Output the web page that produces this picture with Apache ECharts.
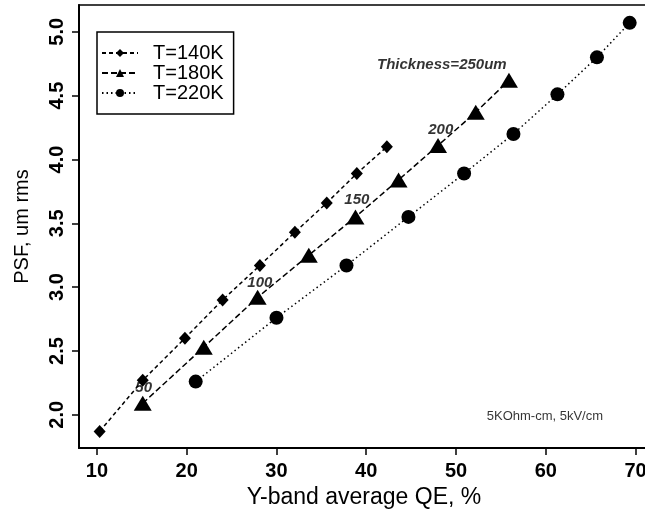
<!DOCTYPE html>
<html>
<head>
<meta charset="utf-8">
<script src="https://cdn.jsdelivr.net/npm/echarts@6/dist/echarts.min.js"></script>
<style>
  html, body { margin: 0; padding: 0; background: #fff; }
  #chart { width: 645px; height: 512px; }
</style>
</head>
<body>
<div id="chart"></div>
<script>
// QE (%) vs PSF (um rms) for three temperatures
var qe140 = [10.3, 15.1, 19.8, 24.0, 28.15, 32.05, 35.6, 38.95, 42.3];
var psf140 = [1.87, 2.27, 2.60, 2.90, 3.17, 3.43, 3.66, 3.89, 4.10];

var qe180 = [15.1, 21.9, 27.9, 33.6, 38.8, 43.6, 48.0, 52.2, 55.9];
var psf180 = [2.09, 2.53, 2.92, 3.25, 3.55, 3.84, 4.11, 4.37, 4.62];

var qe220 = [21.0, 30.0, 37.8, 44.7, 50.9, 56.4, 61.3, 65.7, 69.35];
var psf220 = [2.26, 2.76, 3.17, 3.55, 3.89, 4.20, 4.51, 4.80, 5.07];

var seriesNames = ['T=140K', 'T=180K', 'T=220K'];

var xTicks = [10, 20, 30, 40, 50, 60, 70];
var yTicks = [2.0, 2.5, 3.0, 3.5, 4.0, 4.5, 5.0];

// thickness labels along the curves
var noteText = ['50', '100', '150', '200', 'Thickness=250um'];
var noteX = [15.2, 28.15, 38.95, 48.3, 48.42];
var noteY = [2.21, 3.035, 3.68, 4.235, 4.745];

var condText = '5KOhm-cm, 5kV/cm';
var condX = 59.9, condY = 1.985;

function zip(xs, ys) {
    return xs.map(function (x, i) { return [x, ys[i]]; });
}

var chart = echarts.init(document.getElementById('chart'));
var font = 'Liberation Sans, Arial, sans-serif';

var option = {
    backgroundColor: '#fff',
    animation: false,
    grid: {
        left: 79, top: 5, right: -4, bottom: 64,
        outerBoundsMode: 'none', containLabel: false,
        show: true, borderColor: '#000', borderWidth: 1.5
    },
    legend: {
        data: seriesNames,
        orient: 'vertical',
        left: 97, top: 32,
        borderColor: '#000', borderWidth: 1.5,
        padding: [11, 10, 11, 4],
        itemWidth: 36, itemHeight: 10, itemGap: 0,
        textStyle: { fontFamily: font, fontSize: 20, lineHeight: 20, color: '#000', padding: [0, 0, 0, 10] }
    },
    xAxis: {
        type: 'value',
        min: 8, max: 71.5,
        name: 'Y-band average QE, %',
        nameLocation: 'middle',
        nameGap: 35,
        nameTextStyle: { fontFamily: font, fontSize: 23, color: '#000' },
        splitLine: { show: false },
        axisLine: { lineStyle: { color: '#000', width: 2 } },
        axisTick: { customValues: xTicks, length: 7, lineStyle: { color: '#000', width: 1.5 } },
        axisLabel: {
            customValues: xTicks, margin: 13,
            fontFamily: font, fontSize: 20, fontWeight: 'bold', color: '#000'
        }
    },
    yAxis: {
        type: 'value',
        min: 1.74, max: 5.21,
        name: 'PSF, um rms',
        nameLocation: 'middle',
        nameGap: 47,
        nameTextStyle: { fontFamily: font, fontSize: 20, color: '#000' },
        splitLine: { show: false },
        axisLine: { lineStyle: { color: '#000', width: 2 } },
        axisTick: { customValues: yTicks, length: 7, lineStyle: { color: '#000', width: 1.5 } },
        axisLabel: {
            customValues: yTicks, rotate: 90, margin: 12,
            fontFamily: font, fontSize: 20, fontWeight: 'bold', color: '#000',
            formatter: function (v) { return v.toFixed(1); }
        }
    },
    series: [
        {
            name: seriesNames[0], type: 'line',
            data: zip(qe140, psf140),
            symbol: 'diamond', symbolSize: [12, 13],
            itemStyle: { color: '#000' },
            lineStyle: { color: '#000', width: 1.5, type: [4, 3] }
        },
        {
            name: seriesNames[1], type: 'line',
            data: zip(qe180, psf180),
            symbol: 'triangle', symbolSize: [18, 15],
            itemStyle: { color: '#000' },
            lineStyle: { color: '#000', width: 1.5, type: [6, 3] }
        },
        {
            name: seriesNames[2], type: 'line',
            data: zip(qe220, psf220),
            symbol: 'circle', symbolSize: 14,
            itemStyle: { color: '#000' },
            lineStyle: { color: '#000', width: 1.5, type: [1.5, 3] }
        },
        {
            name: 'notes', type: 'scatter', silent: true,
            symbolSize: 0,
            data: noteText.map(function (t, i) { return { name: t, value: [noteX[i], noteY[i]] }; }),
            label: {
                show: true, position: 'inside', formatter: '{b}',
                fontFamily: font, fontSize: 15, fontStyle: 'italic', fontWeight: 'bold', color: '#000'
            }
        },
        {
            name: 'cond', type: 'scatter', silent: true,
            symbolSize: 0,
            data: [{ name: condText, value: [condX, condY] }],
            label: {
                show: true, position: 'inside', formatter: '{b}',
                fontFamily: font, fontSize: 13, color: '#000'
            }
        }
    ]
};

chart.setOption(option);
</script>
</body>
</html>
